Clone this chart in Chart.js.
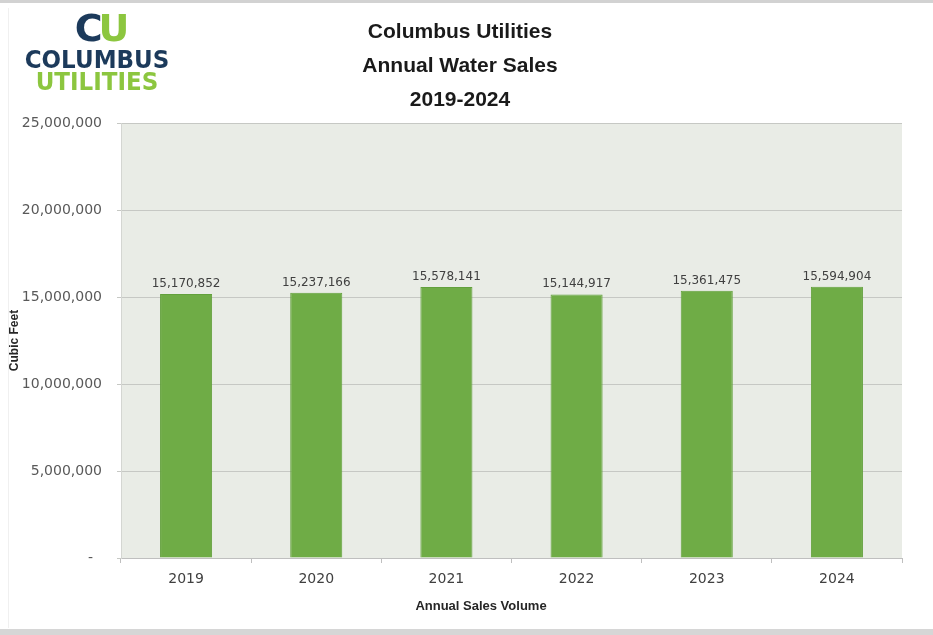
<!DOCTYPE html>
<html>
<head>
<meta charset="utf-8">
<title>Columbus Utilities Annual Water Sales</title>
<script src="https://cdn.jsdelivr.net/npm/chart.js@4.4.1/dist/chart.umd.min.js"></script>
<style>
    html, body { margin: 0; padding: 0; background: #fff; }
    #wrap { position: relative; width: 933px; height: 635px; overflow: hidden; background: #fff; }
    #wrap canvas { position: absolute; left: 0; top: 0; }
    .frame-top { position: absolute; left: 0; top: 0; width: 933px; height: 3px; background: #d2d2d2; }
    .frame-bottom { position: absolute; left: 0; top: 629px; width: 933px; height: 6px; background: #d6d6d6; }
    .frame-left { position: absolute; left: 8px; top: 8px; width: 1px; height: 620px; background: #f0f0f0; }
    .logo-cu { position: absolute; left: 68px; top: 6px; width: 64px; text-align: center;
        font: bold 38px "DejaVu Sans", sans-serif; letter-spacing: -4px; line-height: 44px; }
    .logo-name { position: absolute; left: 16px; width: 162px; text-align: center;
        font: bold 23px "DejaVu Sans", sans-serif; line-height: 24px; transform: scaleY(1.05); }
    .navy { color: #1c3a5b; }
    .lime { color: #8cc63f; }
    .chart-title { position: absolute; left: 300px; top: 14px; width: 320px; text-align: center;
        font: bold 21px "Liberation Sans", Arial, sans-serif; line-height: 34px; color: #1a1a1a; }
    .x-title { position: absolute; left: 381px; top: 598px; width: 200px; text-align: center;
        font: bold 13px "Liberation Sans", Arial, sans-serif; color: #262626; }
</style>
</head>
<body>
<div id="wrap">
    <canvas id="chartWaterSales" width="933" height="635"></canvas>
    <div class="frame-top"></div>
    <div class="frame-left"></div>
    <div class="frame-bottom"></div>
    <div class="logo-cu"><span class="navy">C</span><span class="lime">U</span></div>
    <div class="logo-name navy" style="top: 48px;">COLUMBUS</div>
    <div class="logo-name lime" style="top: 70px;">UTILITIES</div>
    <div class="chart-title">Columbus Utilities<br>Annual Water Sales<br>2019-2024</div>
    <div class="x-title">Annual Sales Volume</div>
</div>
<script>
var years = ['2019', '2020', '2021', '2022', '2023', '2024'];
var salesVolume = [15170852, 15237166, 15578141, 15144917, 15361475, 15594904];
var yAxisMax = 25000000;
var yAxisStep = 5000000;

function formatNumber(v) {
    return Number(v).toLocaleString('en-US');
}

// plot area fill, like the grey-green Excel plot area
var plotBackground = {
    id: 'plotBackground',
    beforeDraw: function (chart) {
        var a = chart.chartArea;
        var ctx = chart.ctx;
        ctx.save();
        ctx.fillStyle = '#e9ece6';
        ctx.fillRect(a.left, a.top, a.right - a.left, a.bottom - a.top);
        ctx.restore();
    }
};

// value labels above each bar
var barValueLabels = {
    id: 'barValueLabels',
    afterDatasetsDraw: function (chart) {
        var ctx = chart.ctx;
        var meta = chart.getDatasetMeta(0);
        var data = chart.data.datasets[0].data;
        ctx.save();
        ctx.font = '12px "DejaVu Sans", sans-serif';
        ctx.fillStyle = '#404040';
        ctx.textAlign = 'center';
        ctx.textBaseline = 'alphabetic';
        meta.data.forEach(function (bar, i) {
            ctx.fillText(formatNumber(data[i]), bar.x, bar.y - 7);
        });
        ctx.restore();
    }
};

document.addEventListener('DOMContentLoaded', function () {
    var ctx = document.getElementById('chartWaterSales');
    new Chart(ctx, {
        type: 'bar',
        data: {
            labels: years,
            datasets: [{
                label: 'Cubic Feet',
                data: salesVolume,
                backgroundColor: '#6fac46',
                borderColor: '#62a03c',
                borderWidth: 1,
                categoryPercentage: 1,
                barPercentage: 0.4
            }]
        },
        options: {
            responsive: false,
            animation: false,
            layout: { padding: { top: 123, right: 31, bottom: 0, left: 0 } },
            plugins: {
                legend: { display: false },
                tooltip: { enabled: false }
            },
            scales: {
                x: {
                    grid: { display: true, drawOnChartArea: false, drawTicks: true, tickLength: 5, color: '#bfbfbf' },
                    border: { display: true, color: '#bfbfbf' },
                    ticks: { font: { family: '"DejaVu Sans", sans-serif', size: 14 }, color: '#404040', padding: 8 },
                    afterFit: function (scale) { scale.height = 77; }
                },
                y: {
                    min: 0,
                    max: yAxisMax,
                    ticks: {
                        stepSize: yAxisStep,
                        font: { family: '"DejaVu Sans", sans-serif', size: 14 },
                        color: '#595959',
                        padding: 15,
                        callback: function (value) { return value === 0 ? '-  ' : formatNumber(value); }
                    },
                    grid: { color: '#c6c8c4', lineWidth: 1, tickLength: 4 },
                    border: { display: true, color: '#d4d6d2' },
                    title: {
                        display: true,
                        text: 'Cubic Feet',
                        font: { family: '"Liberation Sans", Arial, sans-serif', size: 12, weight: 'bold' },
                        color: '#262626',
                        padding: { top: 7, bottom: 0 }
                    },
                    afterFit: function (scale) { scale.width = 121; }
                }
            }
        },
        plugins: [plotBackground, barValueLabels]
    });
});
</script>
</body>
</html>
